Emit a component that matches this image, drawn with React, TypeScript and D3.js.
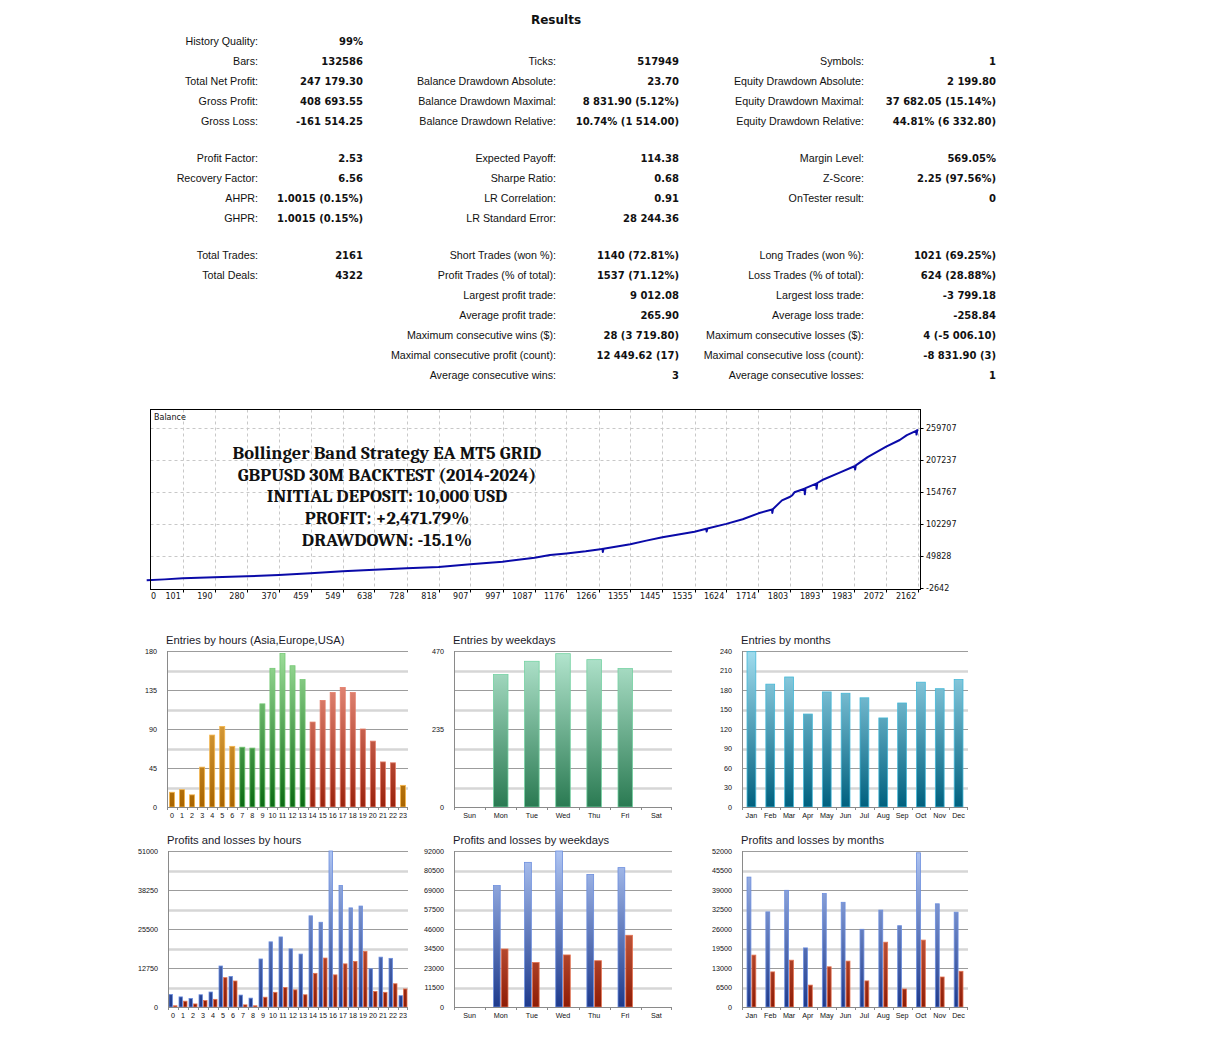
import * as d3 from 'd3';
import * as React from 'react';

// ---------- results table ----------
const statRowY = [41, 61, 81, 101, 121, 158, 178, 198, 218, 255, 275, 295, 315, 335, 355, 375];

const statsLeft: [string, string][] = [
  ['History Quality:', '99%'],
  ['Bars:', '132586'],
  ['Total Net Profit:', '247 179.30'],
  ['Gross Profit:', '408 693.55'],
  ['Gross Loss:', '-161 514.25'],
  ['Profit Factor:', '2.53'],
  ['Recovery Factor:', '6.56'],
  ['AHPR:', '1.0015 (0.15%)'],
  ['GHPR:', '1.0015 (0.15%)'],
  ['Total Trades:', '2161'],
  ['Total Deals:', '4322'],
];

const statsMiddle: [string, string][] = [
  ['', ''],
  ['Ticks:', '517949'],
  ['Balance Drawdown Absolute:', '23.70'],
  ['Balance Drawdown Maximal:', '8 831.90 (5.12%)'],
  ['Balance Drawdown Relative:', '10.74% (1 514.00)'],
  ['Expected Payoff:', '114.38'],
  ['Sharpe Ratio:', '0.68'],
  ['LR Correlation:', '0.91'],
  ['LR Standard Error:', '28 244.36'],
  ['Short Trades (won %):', '1140 (72.81%)'],
  ['Profit Trades (% of total):', '1537 (71.12%)'],
  ['Largest profit trade:', '9 012.08'],
  ['Average profit trade:', '265.90'],
  ['Maximum consecutive wins ($):', '28 (3 719.80)'],
  ['Maximal consecutive profit (count):', '12 449.62 (17)'],
  ['Average consecutive wins:', '3'],
];

const statsRight: [string, string][] = [
  ['', ''],
  ['Symbols:', '1'],
  ['Equity Drawdown Absolute:', '2 199.80'],
  ['Equity Drawdown Maximal:', '37 682.05 (15.14%)'],
  ['Equity Drawdown Relative:', '44.81% (6 332.80)'],
  ['Margin Level:', '569.05%'],
  ['Z-Score:', '2.25 (97.56%)'],
  ['OnTester result:', '0'],
  ['', ''],
  ['Long Trades (won %):', '1021 (69.25%)'],
  ['Loss Trades (% of total):', '624 (28.88%)'],
  ['Largest loss trade:', '-3 799.18'],
  ['Average loss trade:', '-258.84'],
  ['Maximum consecutive losses ($):', '4 (-5 006.10)'],
  ['Maximal consecutive loss (count):', '-8 831.90 (3)'],
  ['Average consecutive losses:', '1'],
];

// ---------- balance chart ----------
const balanceXTicks = [0, 101, 190, 280, 370, 459, 549, 638, 728, 818, 907, 997, 1087, 1176, 1266, 1355,
  1445, 1535, 1624, 1714, 1803, 1893, 1983, 2072, 2162];
const balanceYTicks = [-2642, 49828, 102297, 154767, 207237, 259707];

// [trade #, balance]
const balanceCurve: [number, number][] = [
  [0, 10000], [50, 11500], [101, 13300], [190, 14900], [280, 16500], [370, 18700], [459, 21400],
  [549, 25000], [638, 27300], [728, 29600], [818, 31800], [907, 36200], [997, 40500], [1087, 47000],
  [1130, 51400], [1176, 54000], [1230, 57500], [1266, 60500], [1277, 61500], [1278, 56500],
  [1280, 61600], [1355, 69000], [1400, 75000], [1445, 80500], [1490, 85000], [1535, 89700],
  [1568, 94500], [1569, 90000], [1571, 95000], [1624, 102500], [1670, 110000], [1714, 119800],
  [1752, 126000], [1753, 120500], [1755, 127000], [1780, 141000], [1803, 147000], [1808, 149000],
  [1815, 154300], [1843, 160000], [1844, 151000], [1846, 161000], [1876, 168500], [1877, 160000],
  [1879, 169500], [1893, 174400], [1940, 186000], [1983, 197000], [1985, 191500], [1987, 198500],
  [2020, 212000], [2072, 229000], [2110, 240000], [2130, 248000], [2156, 255000], [2157, 249000],
  [2159, 256000], [2161, 257179],
];

const headline = [
  'Bollinger Band Strategy EA MT5 GRID',
  'GBPUSD 30M BACKTEST (2014-2024)',
  'INITIAL DEPOSIT: 10,000 USD',
  'PROFIT: +2,471.79%',
  'DRAWDOWN: -15.1%',
];

// ---------- distribution charts ----------
const hours = ['0', '1', '2', '3', '4', '5', '6', '7', '8', '9', '10', '11', '12', '13', '14', '15', '16',
  '17', '18', '19', '20', '21', '22', '23'];
const hourSessions = ['asia', 'asia', 'asia', 'asia', 'asia', 'asia', 'asia', 'europe', 'europe', 'europe',
  'europe', 'europe', 'europe', 'europe', 'usa', 'usa', 'usa', 'usa', 'usa', 'usa', 'usa', 'usa', 'usa', 'asia'];
const weekdays = ['Sun', 'Mon', 'Tue', 'Wed', 'Thu', 'Fri', 'Sat'];
const months = ['Jan', 'Feb', 'Mar', 'Apr', 'May', 'Jun', 'Jul', 'Aug', 'Sep', 'Oct', 'Nov', 'Dec'];

const entriesByHour = [17, 20, 14, 46, 83, 93, 70, 69, 68, 119, 160, 177, 163, 147, 98, 123, 132, 138, 132,
  90, 76, 52, 51, 25];
const entriesByWeekday = [0, 399, 439, 462, 444, 417, 0];
const entriesByMonth = [239, 189, 200, 143, 177, 175, 168, 137, 160, 192, 182, 196];

const profitByHour = [4100, 3300, 2800, 4000, 4900, 13400, 10000, 3900, 2900, 15700, 21300, 22900, 19000,
  17300, 29800, 27700, 51000, 39700, 32400, 33000, 12500, 16300, 15900, 3700];
const lossByHour = [400, 1900, 1000, 2100, 2500, 9600, 8500, 700, 400, 3200, 4800, 6400, 5600, 4000, 11000,
  16000, 10500, 14100, 14900, 18200, 5100, 4800, 7600, 5900];
const profitByWeekday = [0, 71600, 85300, 92000, 78200, 82200, 0];
const lossByWeekday = [0, 34200, 26300, 30700, 27300, 42300, 0];
const profitByMonth = [43300, 31700, 38900, 19700, 37800, 34900, 25900, 32300, 27100, 51400, 34400, 31600];
const lossByMonth = [17300, 11700, 15600, 7300, 13400, 15300, 8700, 21600, 6000, 22300, 10000, 11900];

const palettes: Record<string, { top: string; bottom: string; stroke: string }> = {
  asia: { top: '#fcc868', bottom: '#a86400', stroke: '#f5b54a' },
  europe: { top: '#9ede9a', bottom: '#0b6a12', stroke: '#74c874' },
  usa: { top: '#f4a090', bottom: '#9a220c', stroke: '#e47c68' },
  weekday: { top: '#b4e6cf', bottom: '#2a7a52', stroke: '#74d2a2' },
  month: { top: '#a0dcee', bottom: '#00607e', stroke: '#44b8d8' },
  profit: { top: '#aec4f2', bottom: '#1e3a8c', stroke: '#6c8ede' },
  loss: { top: '#f49474', bottom: '#8e1c06', stroke: '#e47454' },
};

const LABEL_FONT = "Tahoma, 'Liberation Sans', Arial, sans-serif";
const VALUE_FONT = "'DejaVu Sans', Verdana, sans-serif";

function StatsTable() {
  const cols = [
    { rows: statsLeft, labelX: 258, valueX: 363 },
    { rows: statsMiddle, labelX: 556, valueX: 679 },
    { rows: statsRight, labelX: 864, valueX: 996 },
  ];
  return (
    <g fill="#111">
      <text x={556} y={24} textAnchor="middle" fontFamily={VALUE_FONT} fontWeight="bold" fontSize={12}>
        Results
      </text>
      {cols.map((c, ci) =>
        c.rows.map(([label, value], ri) =>
          label ? (
            <g key={`${ci}-${ri}`}>
              <text x={c.labelX} y={statRowY[ri] + 4} textAnchor="end" fontFamily={LABEL_FONT} fontSize={10.7}>
                {label}
              </text>
              <text x={c.valueX} y={statRowY[ri] + 4} textAnchor="end" fontFamily={VALUE_FONT}
                fontWeight="bold" fontSize={10}>
                {value}
              </text>
            </g>
          ) : null
        )
      )}
    </g>
  );
}

function BalanceChart() {
  const left = 150.5, right = 920.5, top = 409.5, bottom = 589.5;
  const xs = d3.scaleLinear().domain([0, 2162]).range([146.7, 918.3]);
  const ys = d3.scaleLinear().domain([-2642, 259707]).range([588, 428]);
  const line = d3.line<[number, number]>().x(d => xs(d[0])).y(d => ys(d[1]));
  return (
    <g fontFamily={VALUE_FONT}>
      <rect x={left} y={top} width={right - left} height={bottom - top} fill="#fff" />
      {balanceYTicks.slice(1).map(t => (
        <line key={t} x1={left} x2={right} y1={Math.round(ys(t)) + 0.5} y2={Math.round(ys(t)) + 0.5}
          stroke="#c8c8c8" strokeDasharray="3,3" />
      ))}
      {balanceXTicks.slice(1).map(t => (
        <line key={t} x1={Math.round(xs(t)) + 0.5} x2={Math.round(xs(t)) + 0.5} y1={top} y2={bottom}
          stroke="#c8c8c8" strokeDasharray="3,3" />
      ))}
      <text x={154} y={420} fontSize={8} fill="#111">Balance</text>
      <g textAnchor="middle" fontFamily="Cambria, 'Liberation Serif', 'Times New Roman', serif"
        fontWeight="bold" fontSize={18.5} fill="#111">
        {headline.map((h, i) => (
          <text key={i} x={387} y={459 + i * 21.7}>{h}</text>
        ))}
      </g>
      <path d={line(balanceCurve) || ''} fill="none" stroke="#0a0aa8" strokeWidth={2} strokeLinejoin="round" />
      <rect x={left} y={top} width={right - left} height={bottom - top} fill="none" stroke="#000" />
      {balanceYTicks.map(t => (
        <g key={t}>
          <line x1={right} x2={right + 3} y1={Math.round(ys(t)) + 0.5} y2={Math.round(ys(t)) + 0.5} stroke="#000" />
          <text x={926} y={ys(t) + 3} fontSize={8} fill="#111">{t}</text>
        </g>
      ))}
      {balanceXTicks.map((t, i) => (
        <g key={t}>
          {i > 0 && (
            <line x1={Math.round(xs(t)) + 0.5} x2={Math.round(xs(t)) + 0.5} y1={bottom} y2={bottom + 3} stroke="#000" />
          )}
          <text x={i === 0 ? 151 : xs(t) - 2} y={599} fontSize={8} fill="#111"
            textAnchor={i === 0 ? 'start' : 'end'}>
            {t}
          </text>
        </g>
      ))}
    </g>
  );
}

interface BarSeries {
  values: number[];
  palette: string[];
}

interface BarChartProps {
  id: string;
  title: string;
  left: number;
  right: number;
  top: number;
  bottom: number;
  max: number;
  labelEvery: number;
  categories: string[];
  series: BarSeries[];
  groupFrac: number;
}

function BarChart({ id, title, left, right, top, bottom, max, labelEvery, categories, series, groupFrac }: BarChartProps) {
  const x = d3.scaleBand<string>().domain(categories).range([left, right]);
  const y = d3.scaleLinear().domain([0, max]).range([bottom, top]);
  const grid = d3.range(9).map(i => (max * i) / 8);
  const used = Array.from(new Set(series.flatMap(s => s.palette)));
  const groupW = x.bandwidth() * groupFrac;
  const barW = groupW / series.length;
  return (
    <g>
      <defs>
        {used.map(k => (
          <linearGradient key={k} id={`${id}-${k}`} gradientUnits="userSpaceOnUse" x1={0} y1={top} x2={0} y2={bottom}>
            <stop offset="0%" stopColor={palettes[k].top} />
            <stop offset="100%" stopColor={palettes[k].bottom} />
          </linearGradient>
        ))}
      </defs>
      <text x={left - 1} y={top - 7} fontFamily={LABEL_FONT} fontSize={11.2} fill="#1a1a2a">{title}</text>
      {grid.slice(1).map((g, i) => {
        const yy = Math.round(y(g)) + 0.5;
        const major = (i + 1) % 2 === 0;
        return (
          <line key={i} x1={left} x2={right} y1={yy} y2={yy}
            stroke={major ? '#9c9c9c' : '#d6d6d6'} strokeWidth={major ? 1 : 2.5} />
        );
      })}
      {grid.map((g, i) =>
        i % labelEvery === 0 ? (
          <text key={i} x={left - 10} y={y(g) + 2.5} textAnchor="end" fontFamily={LABEL_FONT}
            fontSize={7.2} fill="#111">
            {g}
          </text>
        ) : null
      )}
      {series.map((s, si) =>
        s.values.map((v, ci) =>
          v > 0 ? (
            <rect key={`${si}-${ci}`}
              x={(x(categories[ci]) as number) + (x.bandwidth() - groupW) / 2 + si * barW + 0.5}
              y={y(v)} width={barW - 1} height={bottom - y(v)}
              fill={`url(#${id}-${s.palette[ci]})`} stroke={palettes[s.palette[ci]].stroke} strokeWidth={0.8} />
          ) : null
        )
      )}
      <line x1={left + 0.5} x2={left + 0.5} y1={top} y2={bottom + 3} stroke="#8a8a8a" />
      <line x1={left} x2={right} y1={bottom + 0.5} y2={bottom + 0.5} stroke="#8a8a8a" />
      {categories.map((c, i) => (
        <g key={c}>
          {i > 0 && (
            <line x1={Math.round(x(c) as number) + 0.5} x2={Math.round(x(c) as number) + 0.5}
              y1={bottom} y2={bottom + 3} stroke="#8a8a8a" />
          )}
          <text x={(x(c) as number) + x.bandwidth() / 2} y={bottom + 11} textAnchor="middle"
            fontFamily={LABEL_FONT} fontSize={7.2} fill="#111">
            {c}
          </text>
        </g>
      ))}
      <line x1={right - 0.5} x2={right - 0.5} y1={bottom} y2={bottom + 3} stroke="#8a8a8a" />
    </g>
  );
}

const fill = (n: number, key: string) => categoriesPalette(n, key);
function categoriesPalette(n: number, key: string) {
  return Array.from({ length: n }, () => key);
}

export default function App() {
  return (
    <svg width={1223} height={1045} style={{ position: 'absolute', left: 0, top: 0, background: '#fff' }}>
      <StatsTable />
      <BalanceChart />
      <BarChart id="eh" title="Entries by hours (Asia,Europe,USA)" left={167} right={408} top={651} bottom={807}
        max={180} labelEvery={2} categories={hours} groupFrac={0.6}
        series={[{ values: entriesByHour, palette: hourSessions }]} />
      <BarChart id="ew" title="Entries by weekdays" left={454} right={672} top={651} bottom={807}
        max={470} labelEvery={4} categories={weekdays} groupFrac={0.5}
        series={[{ values: entriesByWeekday, palette: fill(7, 'weekday') }]} />
      <BarChart id="em" title="Entries by months" left={742} right={968} top={651} bottom={807}
        max={240} labelEvery={1} categories={months} groupFrac={0.52}
        series={[{ values: entriesByMonth, palette: fill(12, 'month') }]} />
      <BarChart id="ph" title="Profits and losses by hours" left={168} right={408} top={851} bottom={1007}
        max={51000} labelEvery={2} categories={hours} groupFrac={0.9}
        series={[
          { values: profitByHour, palette: fill(24, 'profit') },
          { values: lossByHour, palette: fill(24, 'loss') },
        ]} />
      <BarChart id="pw" title="Profits and losses by weekdays" left={454} right={672} top={851} bottom={1007}
        max={92000} labelEvery={1} categories={weekdays} groupFrac={0.5}
        series={[
          { values: profitByWeekday, palette: fill(7, 'profit') },
          { values: lossByWeekday, palette: fill(7, 'loss') },
        ]} />
      <BarChart id="pm" title="Profits and losses by months" left={742} right={968} top={851} bottom={1007}
        max={52000} labelEvery={1} categories={months} groupFrac={0.52}
        series={[
          { values: profitByMonth, palette: fill(12, 'profit') },
          { values: lossByMonth, palette: fill(12, 'loss') },
        ]} />
    </svg>
  );
}
